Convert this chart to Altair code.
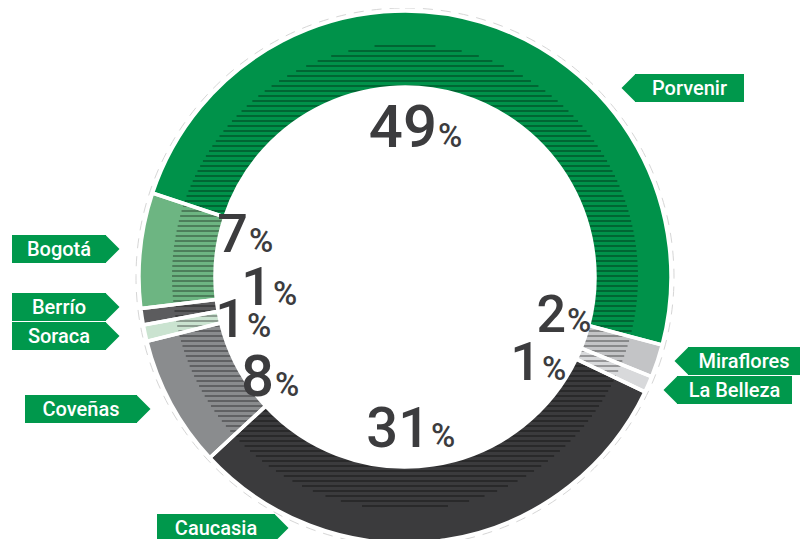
import altair as alt
import numpy as np
import pandas as pd

# ---------------- data ----------------
CATEGORIES = ["Porvenir", "Miraflores", "La Belleza", "Caucasia", "Coveñas", "Soraca", "Berrío", "Bogotá"]
SHARES = [49, 2, 1, 31, 8, 1, 1, 7]
PCT_LABELS = ["49", "2", "1", "31", "8", "1", "1", "7"]
COLORS = ["#00924a", "#c3c4c6", "#d8d9db", "#3b3b3d", "#8a8c8e", "#cae3d0", "#5c5c5e", "#6db582"]

# ---------------- layout (page pixels) ----------------
OFF = 8
W, H = 795, 531
CX, CY = 405 - OFF, 277 - OFF
R_OUT, R_IN, R_HATCH = 266, 190, 233
START = np.deg2rad(288.4)
FONT = "Roboto"
TAG_GREEN = "#00984c"
TXT = "#3c3c3e"

# junction x (between number and %), baseline y, font size
PCT_POS = [(437, 147, 60), (566, 332, 52), (541, 380, 54), (430, 447, 56),
           (274, 396, 58), (246, 337, 54), (272, 305, 54), (248, 252, 54)]
# box left, box right, center y, arrow direction
TAG_POS = [(635, 744, 88, "L"), (688, 800, 361, "L"), (677, 792, 390, "L"), (157, 275, 528, "R"),
           (25, 137, 409, "R"), (12, 106, 336, "R"), (12, 106, 307, "R"), (12, 106, 249, "R")]
TAG_H = 28

df = pd.DataFrame({"cat": CATEGORIES, "share": SHARES, "idx": list(range(len(CATEGORIES)))})

theta = alt.Theta("share:Q", stack=True, scale=alt.Scale(range=[float(START), float(START + 2 * np.pi)]))
color = alt.Color("cat:N", scale=alt.Scale(domain=CATEGORIES, range=COLORS), legend=None)

ring = alt.Chart(df).mark_arc(innerRadius=R_IN, outerRadius=R_OUT).encode(
    theta=theta, color=color, order=alt.Order("idx:Q"),
    x=alt.value(CX), y=alt.value(CY))

sep = alt.Chart(df).mark_arc(innerRadius=R_IN, outerRadius=R_OUT, fillOpacity=0,
                             stroke="white", strokeWidth=3.5).encode(
    theta=theta, order=alt.Order("idx:Q"), x=alt.value(CX), y=alt.value(CY))

outline = alt.Chart(pd.DataFrame({"a": [0]})).mark_arc(
    innerRadius=0, outerRadius=R_OUT + 3, theta=0, theta2=float(2 * np.pi),
    fillOpacity=0, stroke="#d6d6d6", strokeWidth=1, strokeDash=[10, 8]).encode(
    x=alt.value(CX), y=alt.value(CY))

# decorative horizontal hatching in the inner band of the ring
rows = []
for dy in np.arange(-R_HATCH + 2, R_HATCH, 5.0):
    xo = np.sqrt(R_HATCH ** 2 - dy ** 2)
    if abs(dy) < R_IN:
        xi = np.sqrt(R_IN ** 2 - dy ** 2)
        rows.append(dict(x0=CX - xo, x1=CX - xi, y=CY + dy))
        rows.append(dict(x0=CX + xi, x1=CX + xo, y=CY + dy))
    else:
        rows.append(dict(x0=CX - xo, x1=CX + xo, y=CY + dy))
hatch = alt.Chart(pd.DataFrame(rows)).mark_rule(color="black", opacity=0.3, strokeWidth=2).encode(
    x=alt.X("x0:Q", scale=None, axis=None), x2="x1:Q", y=alt.Y("y:Q", scale=None, axis=None))

# percentage labels
pct = pd.DataFrame({
    "num": PCT_LABELS,
    "px": [p[0] - OFF for p in PCT_POS],
    "py": [p[1] - OFF for p in PCT_POS],
    "fs": [p[2] for p in PCT_POS],
})
nums = alt.Chart(pct).mark_text(align="right", baseline="alphabetic", font=FONT, fontWeight=500,
                                color=TXT).encode(
    x=alt.X("px:Q", scale=None), y=alt.Y("py:Q", scale=None), text="num:N",
    size=alt.Size("fs:Q", scale=None, legend=None))
percs = alt.Chart(pct).mark_text(align="left", baseline="alphabetic", font=FONT, fontWeight=500,
                                 color=TXT, fontSize=33, dx=1).encode(
    x=alt.X("px:Q", scale=None), y=alt.Y("py:Q", scale=None), text=alt.value("%"))

# green tags
LEFT_PATH = "M-0.5,0 L0.5,-1 L0.5,1 Z"
RIGHT_PATH = "M0.5,0 L-0.5,-1 L-0.5,1 Z"
tags = pd.DataFrame({
    "name": CATEGORIES,
    "x0": [t[0] - OFF for t in TAG_POS],
    "x1": [t[1] - OFF for t in TAG_POS],
    "xm": [(t[0] + t[1]) / 2 - OFF for t in TAG_POS],
    "y0": [t[2] - TAG_H / 2 - OFF for t in TAG_POS],
    "y1": [t[2] + TAG_H / 2 - OFF for t in TAG_POS],
    "yc": [t[2] - OFF for t in TAG_POS],
    "tx": [(t[0] - TAG_H / 4 + 0.5 if t[3] == "L" else t[1] + TAG_H / 4 - 0.5) - OFF for t in TAG_POS],
    "path": [LEFT_PATH if t[3] == "L" else RIGHT_PATH for t in TAG_POS],
})
tag_box = alt.Chart(tags).mark_rect(color=TAG_GREEN).encode(
    x=alt.X("x0:Q", scale=None), x2="x1:Q", y=alt.Y("y0:Q", scale=None), y2="y1:Q")
tag_tip = alt.Chart(tags).mark_point(filled=True, opacity=1, size=TAG_H ** 2, color=TAG_GREEN,
                                     strokeWidth=0).encode(
    x=alt.X("tx:Q", scale=None), y=alt.Y("yc:Q", scale=None),
    shape=alt.Shape("path:N", scale=None, legend=None))
tag_txt = alt.Chart(tags).mark_text(color="white", font=FONT, fontWeight=500, fontSize=20,
                                    baseline="middle", align="center", dy=1).encode(
    x=alt.X("xm:Q", scale=None), y=alt.Y("yc:Q", scale=None), text="name:N")

chart = alt.layer(outline, ring, hatch, sep, nums, percs, tag_box, tag_tip, tag_txt).properties(
    width=W, height=H, padding=0, autosize="none"
).configure_view(stroke=None)

chart.save("out.html", embed_options={"renderer": "svg", "actions": False})
